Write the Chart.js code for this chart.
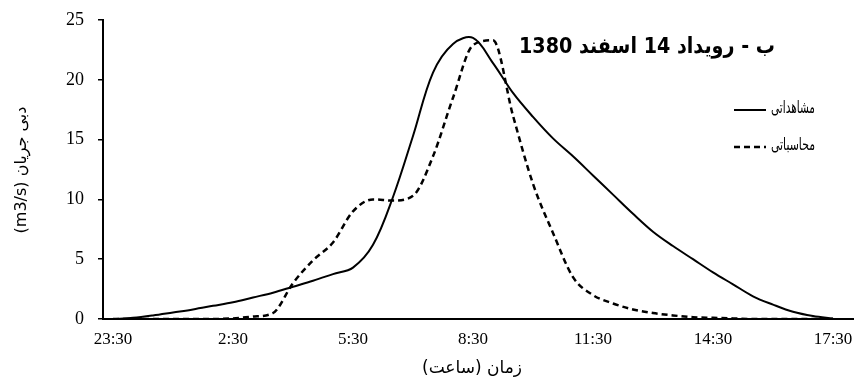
<!DOCTYPE html>
<html><head><meta charset="utf-8">
<script src="https://cdn.jsdelivr.net/npm/chart.js@4.4.1/dist/chart.umd.min.js"></script>
<style>html,body{margin:0;padding:0;background:#fff}#wrap{width:857px;height:388px}</style>
</head><body><div id="wrap"><canvas id="c" width="857" height="388"></canvas></div>
<script>
// ---- data ----
const times = ["23:30","0:00","0:30","1:00","1:30","2:00","2:30","3:00","3:30","4:00","4:30","5:00","5:30","6:00","6:30","7:00","7:30","8:00","8:30","9:00","9:30","10:00","10:30","11:00","11:30","12:00","12:30","13:00","13:30","14:00","14:30","15:00","15:30","16:00","16:30","17:00","17:30"];
const observed = [0.0,0.1,0.3,0.55,0.8,1.1,1.4,1.8,2.2,2.7,3.2,3.75,4.3,6.2,10.2,15.3,20.6,23.0,23.5,21.4,18.9,16.9,15.1,13.6,12.0,10.4,8.8,7.3,6.1,5.0,3.9,2.9,1.9,1.2,0.6,0.25,0.05];
const computed = [0,0,0,0,0,0,0.05,0.2,0.5,3.0,4.9,6.4,9.0,10.0,9.9,10.3,13.6,18.5,22.9,23.3,17.0,11.3,7.2,3.5,2.0,1.3,0.8,0.5,0.3,0.15,0.1,0.05,0,0,0,0,0];
const tickLabels = ["23:30","2:30","5:30","8:30","11:30","14:30","17:30"];
const seriesNames = ["مشاهداتی","محاسباتی"];
const chartTitle = "ب - رویداد 14 اسفند 1380";
const xTitle = "زمان (ساعت)";
const yTitle = "دبی جریان (m3/s)";

function hrs(t){const [h,m]=t.split(':').map(Number);let d=h+m/60-23.5;if(d<0)d+=24;return d;}
const obsPts = times.map((t,i)=>({x:hrs(t),y:observed[i]}));
const cmpPts = times.map((t,i)=>({x:hrs(t),y:computed[i]}));
const tickVals = tickLabels.map(hrs);

function fitText(ctx, txt, xRight, y, targetW){
  const w = ctx.measureText(txt).width;
  const s = targetW / w;
  ctx.save();
  ctx.translate(xRight, y);
  ctx.scale(s, 1);
  ctx.fillText(txt, 0, 0);
  ctx.restore();
  return targetW;
}

const overlay = {
  id:'overlay',
  afterDraw(chart){
    const ctx = chart.ctx;
    ctx.save();
    ctx.fillStyle = '#000';
    // title
    ctx.direction = 'rtl';
    ctx.textAlign = 'right';
    ctx.textBaseline = 'middle';
    ctx.font = 'bold 22px "DejaVu Sans"';
    fitText(ctx, chartTitle, 775, 47, 256);
    // legend
    ctx.font = '17px "DejaVu Sans"';
    const ly = [109,146];
    chart.data.datasets.forEach((ds,i)=>{
      const xr = 815;
      ctx.direction = 'rtl';
      ctx.textAlign = 'right';
      const w = fitText(ctx, ds.label, xr, ly[i], 44);
      const x2 = xr - w - 5, x1 = x2 - 32;
      ctx.beginPath();
      ctx.setLineDash(ds.borderDash||[]);
      ctx.lineWidth = ds.borderWidth;
      ctx.strokeStyle = ds.borderColor;
      ctx.moveTo(x1, ly[i]+1); ctx.lineTo(x2, ly[i]+1);
      ctx.stroke();
      ctx.setLineDash([]);
    });
    // x axis title
    ctx.font = '17px "DejaVu Sans"';
    ctx.direction = 'rtl';
    ctx.textAlign = 'center';
    ctx.fillText(xTitle, 472, 369);
    // y axis title
    ctx.font = '16px "DejaVu Sans"';
    ctx.save();
    ctx.translate(22, 170);
    ctx.rotate(-Math.PI/2);
    ctx.fillText(yTitle, 0, 0);
    ctx.restore();
    ctx.restore();
  }
};

new Chart(document.getElementById('c'), {
  type:'line',
  data:{datasets:[
    {label:seriesNames[0], data:obsPts, borderColor:'#000', borderWidth:2, pointRadius:0, tension:0.35, fill:false},
    {label:seriesNames[1], data:cmpPts, borderColor:'#000', borderWidth:2.5, borderDash:[6,4], pointRadius:0, cubicInterpolationMode:'monotone', fill:false}
  ]},
  options:{
    responsive:false, animation:false, devicePixelRatio:1,
    layout:{padding:{left:0,right:4,top:20,bottom:0}},
    plugins:{legend:{display:false}, tooltip:{enabled:false}},
    scales:{
      x:{type:'linear', min:-0.25, max:18.5,
         afterFit(s){s.height=69; s.paddingLeft=0; s.paddingRight=0;},
         afterBuildTicks(s){s.ticks = tickVals.map(v=>({value:v}));},
         ticks:{color:'#000', font:{family:'"Liberation Serif"', size:17}, padding:10, maxRotation:0, autoSkip:false,
                callback:(v)=>{const i=tickVals.indexOf(v);return i>=0?tickLabels[i]:'';}},
         grid:{display:false, drawTicks:false},
         border:{display:true, color:'#000', width:2}},
      y:{min:0, max:25,
         afterFit(s){s.width=103; s.paddingTop=0; s.paddingBottom=0;},
         ticks:{stepSize:5, color:'#000', font:{family:'"Liberation Serif"', size:18}, padding:14},
         grid:{drawOnChartArea:false, drawTicks:true, tickLength:5, color:'#000', lineWidth:1.5},
         border:{display:true, color:'#000', width:2}}
    }
  },
  plugins:[overlay]
});
</script></body></html>
